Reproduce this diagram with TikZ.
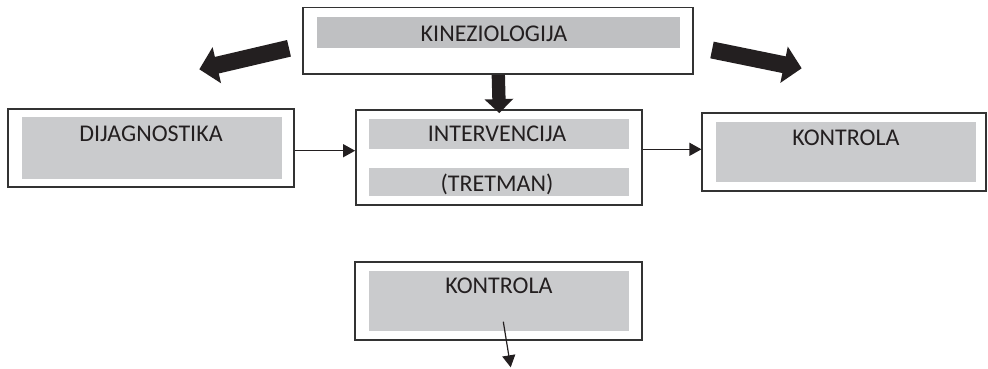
\documentclass[tikz,border=0pt]{standalone}
\usepackage{fontspec}
\setmainfont{Carlito}
\usetikzlibrary{arrows.meta,calc}
\definecolor{ink}{HTML}{231F20}
\definecolor{frame}{HTML}{333333}
\definecolor{fillg}{HTML}{CACBCD}
\definecolor{fillt}{HTML}{BFC0C2}
\tikzset{
  outer/.style={draw=frame,line width=1.8pt,fill=white,rectangle,inner sep=0pt},
  inner/.style={fill=fillg,draw=none,rectangle,inner sep=0pt},
  lbl/.style={font=\fontsize{24}{24}\selectfont,text=ink,anchor=base,inner sep=0pt},
  thin/.style={draw=ink,line width=1.2pt,-{Triangle[width=13pt,length=12pt]}},
  fat/.style={draw=ink,line width=17pt,-{Triangle[width=36pt,length=18pt]}},
}
\begin{document}
\begin{tikzpicture}[x=1pt,y=-1pt]
\useasboundingbox (0,0) rectangle (988,368);
% boxes
\node[outer,minimum width=390pt,minimum height=66.5pt] (top) at (497.8,40.7) {};
\node[inner,fill=fillt,minimum width=363pt,minimum height=31.3pt] (topg) at (498.3,32.3) {};
\node[outer,minimum width=286.3pt,minimum height=78pt] (diag) at (151.2,148.3) {};
\node[inner,minimum width=260pt,minimum height=61.4pt] (diagg) at (151.7,148) {};
\node[outer,minimum width=286pt,minimum height=95pt] (mid) at (499,157.5) {};
\node[inner,minimum width=259.7pt,minimum height=30.3pt] (midg1) at (498.9,134.2) {};
\node[inner,minimum width=259.7pt,minimum height=27.7pt] (midg2) at (498.9,182.2) {};
\node[outer,minimum width=283.7pt,minimum height=77.4pt] (kon) at (844.2,152) {};
\node[inner,minimum width=259.7pt,minimum height=59.7pt] (kong) at (845.9,152.2) {};
\node[outer,minimum width=287pt,minimum height=78.3pt] (bot) at (498.5,300.9) {};
\node[inner,minimum width=259.4pt,minimum height=60pt] (botg) at (499,300.7) {};
% labels
\node[lbl] (t1) at (494,41.5) {KINEZIOLOGIJA};
\node[lbl] (t2) at (151,141) {DIJAGNOSTIKA};
\node[lbl] (t3) at (497,141) {INTERVENCIJA};
\node[lbl] (t4) at (497,191.5) {(TRETMAN)};
\node[lbl] (t5) at (846,145) {KONTROLA};
\node[lbl] (t6) at (499,293) {KONTROLA};
% thin connectors
\draw[thin] (diag.east |- 0,150.7) -- (mid.west |- 0,150.7);
\draw[thin] (mid.east |- 0,149.3) -- (kon.west |- 0,149.3);
\coordinate (bs) at (503.3,321.7);
\coordinate (be) at (510.7,367.3);
\draw[thin] (bs) -- (be);
% fat arrows
\coordinate (ls) at (289,48.3);
\coordinate (le) at (199.3,69.3);
\coordinate (rs) at (712,50);
\coordinate (re) at (801.7,68.3);
\draw[fat] (ls) -- (le);
\draw[fat] (rs) -- (re);
\draw[ink,line width=13.3pt,-{Triangle[width=28pt,length=14pt]}] ([xshift=0.5pt]top.south) -- ([xshift=0.3pt,yshift=-4pt]mid.north);
\end{tikzpicture}
\end{document}
